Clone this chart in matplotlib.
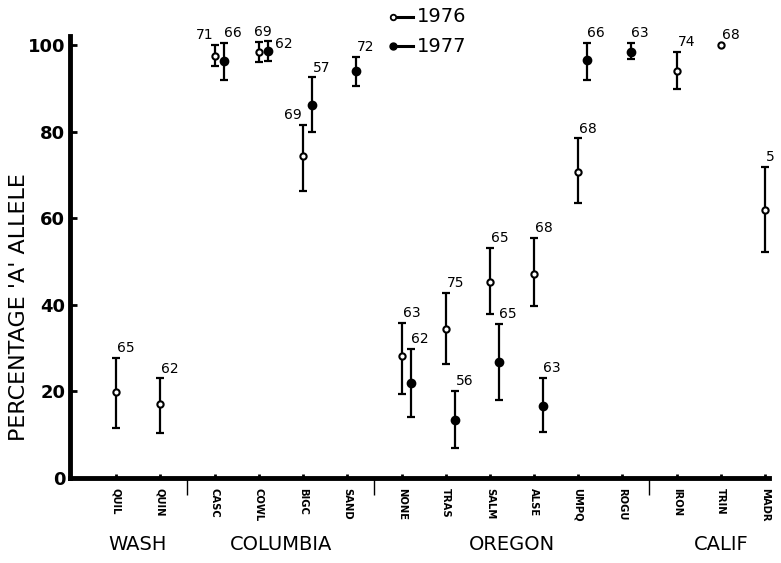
import numpy as np
import matplotlib
matplotlib.use('Agg')
import matplotlib.pyplot as plt
from matplotlib.lines import Line2D

# Sitios y regiones
sites = ['QUIL', 'QUIN', 'CASC', 'COWL', 'BIGC', 'SAND', 'NONE', 'TRAS',
         'SALM', 'ALSE', 'UMPQ', 'ROGU', 'IRON', 'TRIN', 'MADR']
group_of_site = [0, 0, 1, 1, 1, 1, 2, 2, 2, 2, 2, 2, 3, 3, 3]
groups = ['WASH', 'COLUMBIA', 'OREGON', 'CALIF']

nan = np.nan
# 1976 (círculo abierto)
y76 = [19.8, 17.1, 97.4, 98.4, 74.4, nan, 28.1, 34.4, 45.2, 47.2, 70.7, nan, 94.1, 100.0, 61.8]
lo76 = [11.6, 10.4, 95.1, 96.0, 66.2, nan, 19.5, 26.3, 37.9, 39.8, 63.6, nan, 89.9, nan, 52.2]
hi76 = [27.7, 23.0, 100.0, 100.7, 81.6, nan, 35.8, 42.8, 53.2, 55.5, 78.4, nan, 98.4, nan, 71.8]
n76 = ['65', '62', '71', '69', '69', '', '63', '75', '65', '68', '68', '', '74', '68', '5']

# 1977 (círculo lleno)
y77 = [nan, nan, 96.2, 98.6, 86.1, 93.9, 21.9, 13.5, 26.8, 16.6, 96.5, 98.4, nan, nan, nan]
lo77 = [nan, nan, 92.0, 96.2, 80.0, 90.6, 14.0, 7.0, 18.1, 10.6, 92.0, 96.7, nan, nan, nan]
hi77 = [nan, nan, 100.5, 100.9, 92.5, 97.2, 29.8, 20.2, 35.6, 23.1, 100.5, 100.5, nan, nan, nan]
n77 = ['', '', '66', '62', '57', '72', '62', '56', '65', '63', '66', '63', '', '', '']

# donde va cada etiqueta de n
place76 = ['above'] * 15
place76[2] = 'left'
place76[3] = 'center'
place76[4] = 'left'
place77 = ['above'] * 15
place77[3] = 'side'

pos = np.arange(len(sites)) + 0.25 * np.array(group_of_site)
off77 = 0.2

fig = plt.figure(figsize=(7.81, 5.63), dpi=100)
ax = fig.add_axes([0.089, 1 - 478 / 563, 0.896, (478 - 36.3) / 563])
ax.set_xlim(-1.057, 14.85)
ax.set_ylim(0, 102)


def draw_year(x, y, lo, hi, filled):
    y = np.array(y)
    lo = np.array(lo)
    hi = np.array(hi)
    ok = ~np.isnan(y)
    has_err = ok & ~np.isnan(lo)
    ax.errorbar(x[has_err], y[has_err],
                yerr=[y[has_err] - lo[has_err], hi[has_err] - y[has_err]],
                fmt='none', ecolor='black', elinewidth=1.6, capsize=3,
                capthick=1.6, clip_on=False, zorder=2)
    ax.plot(x[ok], y[ok], 'o', ms=4.5 if not filled else 5.5,
            mfc='black' if filled else 'white', mec='black', mew=1.5,
            clip_on=False, zorder=3)


def draw_labels(x, y, hi, labels, places):
    for xi, yi, hii, lab, pl in zip(x, y, hi, labels, places):
        if not lab:
            continue
        top = yi if np.isnan(hii) else hii
        if pl == 'left':
            ax.annotate(lab, (xi, top), xytext=(-1, 2), textcoords='offset points',
                        ha='right', va='bottom', fontsize=10)
        elif pl == 'center':
            ax.annotate(lab, (xi, top), xytext=(3, 2), textcoords='offset points',
                        ha='center', va='bottom', fontsize=10)
        elif pl == 'side':
            ax.annotate(lab, (xi, top), xytext=(5, -2), textcoords='offset points',
                        ha='left', va='center', fontsize=10)
        else:
            ax.annotate(lab, (xi, top), xytext=(0.5, 2), textcoords='offset points',
                        ha='left', va='bottom', fontsize=10, annotation_clip=False)


draw_year(pos, y76, lo76, hi76, False)
draw_year(pos + off77, y77, lo77, hi77, True)
draw_labels(pos, y76, hi76, n76, place76)
draw_labels(pos + off77, y77, hi77, n77, place77)

# ejes
for s in ['top', 'right']:
    ax.spines[s].set_visible(False)
ax.spines['left'].set_linewidth(3.5)
ax.spines['bottom'].set_linewidth(3.5)

ax.set_yticks([0, 20, 40, 60, 80, 100])
ax.tick_params(axis='y', direction='in', length=5, width=2, pad=3, labelsize=13)
for t in ax.get_yticklabels():
    t.set_fontweight('bold')

ax.set_xticks(pos)
ax.set_xticklabels(sites, rotation=270, fontsize=8, fontweight='heavy',
                   fontstretch='condensed')
ax.tick_params(axis='x', which='major', direction='in', length=3, width=2, pad=7)

# separadores entre regiones
seps = [(pos[i] + pos[i + 1]) / 2 for i in range(len(sites) - 1)
        if group_of_site[i] != group_of_site[i + 1]]
ax.set_xticks(seps, minor=True)
ax.tick_params(axis='x', which='minor', direction='out', length=12, width=1)

# nombres de regiones
for g, name in enumerate(groups):
    idx = [i for i in range(len(sites)) if group_of_site[i] == g]
    xc = pos[idx].mean()
    ax.annotate(name, (xc, 0), xycoords=('data', 'axes fraction'),
                xytext=(0, -48), textcoords='offset points',
                ha='center', va='center', fontsize=14)

fig.text(0.024, 1 - 307 / 563, "PERCENTAGE 'A' ALLELE", rotation=90,
         ha='center', va='center', fontsize=16)

# leyenda
fig.add_artist(Line2D([0.503], [0.970], marker='o', ms=4, mfc='white', mec='black', mew=1.3))
fig.add_artist(Line2D([0.510, 0.529], [0.970, 0.970], color='black', lw=2.2))
fig.text(0.534, 0.970, '1976', fontsize=14, va='center')
fig.add_artist(Line2D([0.503], [0.918], marker='o', ms=5, mfc='black', mec='black'))
fig.add_artist(Line2D([0.510, 0.529], [0.918, 0.918], color='black', lw=2.2))
fig.text(0.534, 0.918, '1977', fontsize=14, va='center')

fig.savefig('out.png', dpi=100)
